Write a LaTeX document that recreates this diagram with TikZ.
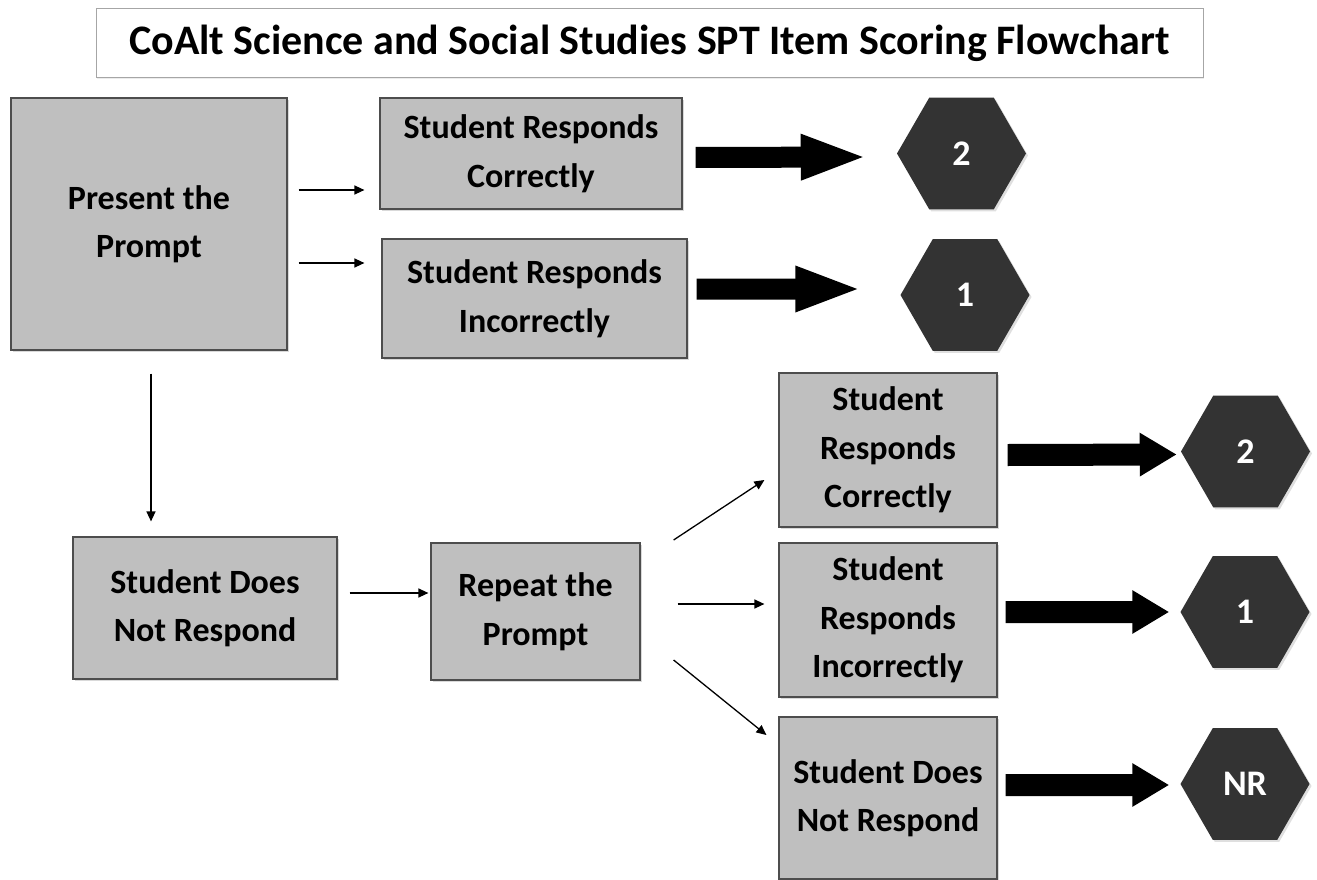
\documentclass[tikz,border=0pt]{standalone}
\usepackage{fontspec}
\setmainfont{Carlito}
\usetikzlibrary{arrows.meta,shapes.geometric,shadows}
\definecolor{boxgray}{HTML}{BFBFBF}
\definecolor{hexgray}{HTML}{333333}
\definecolor{edgegray}{HTML}{4D4D4D}
\begin{document}
\begin{tikzpicture}[x=1pt,y=-1pt,line width=1.3pt,
  every node/.style={font=\bfseries\fontsize{34}{48.5}\selectfont,align=center,inner sep=1pt},
  box/.style={draw=edgegray,fill=boxgray,line width=1.2pt,
    drop shadow={shadow xshift=2pt,shadow yshift=-2pt,opacity=.3}},
  score/.style={regular polygon,regular polygon sides=6,minimum size=129pt,fill=hexgray,text=white,
    font=\bfseries\fontsize{36}{38}\selectfont,drop shadow={shadow xshift=2pt,shadow yshift=-2pt,opacity=.25}},
  link/.style={-{Triangle[length=10pt,width=9pt]}},
  fat/.style={line width=21pt,-{Triangle[length=#1,width=41pt]}},fat/.default=67pt]
  \path[use as bounding box] (0,0) rectangle (1317,880);
  \node[draw=gray!70,fill=white,line width=1pt,minimum width=1107pt,minimum height=69pt,
    font=\bfseries\fontsize{42}{46}\selectfont,drop shadow={shadow xshift=1pt,shadow yshift=-1pt,opacity=.15}]
    (head) at (649.5,43.5) {CoAlt Science and Social Studies SPT Item Scoring Flowchart};
  \node[box,minimum width=276pt,minimum height=252pt] (present) at (149,224) {Present the\\Prompt};
  \node[box,minimum width=302pt,minimum height=111pt] (correct1) at (531,153.5) {Student Responds\\Correctly};
  \node[box,minimum width=305pt,minimum height=119pt] (incorrect1) at (534.5,298.5) {Student Responds\\Incorrectly};
  \node[score] (twoA) at (961.5,153.5) {2};
  \node[score] (oneA) at (965,295) {1};
  \node[box,minimum width=264pt,minimum height=142pt] (noresp1) at (205,608) {Student Does\\Not Respond};
  \node[box,minimum width=209pt,minimum height=137pt] (repeat) at (535.5,611.5) {Repeat the\\Prompt};
  \node[box,minimum width=218pt,minimum height=154pt] (correct2) at (888,450) {Student\\Responds\\Correctly};
  \node[box,minimum width=218pt,minimum height=154pt] (incorrect2) at (888,620) {Student\\Responds\\Incorrectly};
  \node[box,minimum width=218pt,minimum height=162pt] (noresp2) at (888,798) {Student Does\\Not Respond};
  \node[score] (twoB) at (1245.5,451.5) {2};
  \node[score] (oneB) at (1245,612) {1};
  \node[score] (nr) at (1245,784) {NR};
  \draw[link] ([shift={(11,-34)}]present.east) -- ([shift={(-15,36.5)}]correct1.west);
  \draw[link] ([shift={(11,39)}]present.east) -- ([shift={(-17,-35.5)}]incorrect1.west);
  \draw[link] ([shift={(2,23)}]present.south) -- ([shift={(-54,-15)}]noresp1.north);
  \draw[link] ([shift={(12,-15)}]noresp1.east) -- ([shift={(-2,-18.5)}]repeat.west);
  \draw[link] ([shift={(33,-71.5)}]repeat.east) -- ([shift={(-14,30)}]correct2.west);
  \draw[link] ([shift={(37,-7.5)}]repeat.east) -- ([shift={(-14,-16)}]incorrect2.west);
  \draw[link] ([shift={(33,48.5)}]repeat.east) -- ([shift={(-12,-63)}]noresp2.west);
  \draw[fat] ([shift={(13,4)}]correct1.east) -- ([shift={(-28.5,3.5)}]twoA.west);
  \draw[fat] ([shift={(9,-9.5)}]incorrect1.east) -- ([shift={(-37.5,-6)}]oneA.west);
  \draw[fat=37pt,line width=22pt] ([shift={(10,5)}]correct2.east) -- ([shift={(-3.5,3)}]twoB.west);
  \draw[fat=37pt,line width=22pt] ([shift={(8,-8)}]incorrect2.east) -- ([shift={(-10.5,0)}]oneB.west);
  \draw[fat=37pt,line width=22pt] ([shift={(8,-13)}]noresp2.east) -- ([shift={(-10.5,1)}]nr.west);
\end{tikzpicture}
\end{document}
